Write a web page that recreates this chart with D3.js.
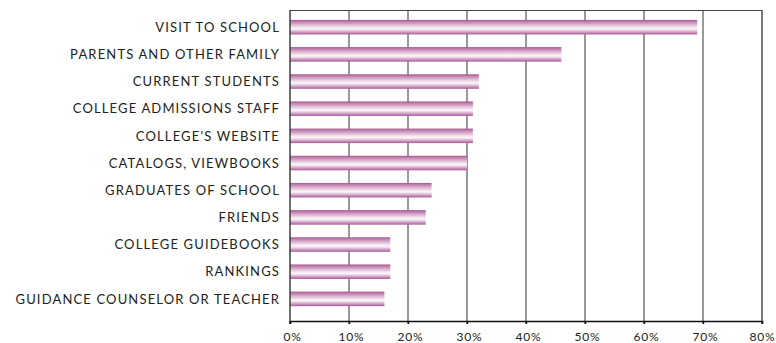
<!DOCTYPE html>
<html>
<head>
<meta charset="utf-8">
<script src="https://cdn.jsdelivr.net/npm/d3@7"></script>
<style>
  html, body { margin: 0; padding: 0; background: #fff; }
  svg { display: block; }
  .label { font-family: Lato, "Open Sans", sans-serif; font-size: 13px; fill: #222; letter-spacing: 1.15px; }
  .tick-label { font-family: Lato, "Open Sans", sans-serif; font-size: 12px; fill: #222; letter-spacing: 0.8px; }
</style>
</head>
<body>
<svg id="chart" width="776" height="343"></svg>
<script>
// Sources of information about colleges, share of respondents (%)
const categories = [
  "VISIT TO SCHOOL",
  "PARENTS AND OTHER FAMILY",
  "CURRENT STUDENTS",
  "COLLEGE ADMISSIONS STAFF",
  "COLLEGE'S WEBSITE",
  "CATALOGS, VIEWBOOKS",
  "GRADUATES OF SCHOOL",
  "FRIENDS",
  "COLLEGE GUIDEBOOKS",
  "RANKINGS",
  "GUIDANCE COUNSELOR OR TEACHER"
];
const values = [69, 46, 32, 31, 31, 30, 24, 23, 17, 17, 16];
const tickValues = [0, 10, 20, 30, 40, 50, 60, 70, 80];
const tickLabels = ["0%", "10%", "20%", "30%", "40%", "50%", "60%", "70%", "80%"];

const margin = { top: 10, left: 290, right: 14, bottom: 22 };
const width = 776, height = 343;
const plotRight = width - margin.right;
const plotBottom = height - margin.bottom;

const svg = d3.select("#chart");

const x = d3.scaleLinear().domain([0, 80]).range([margin.left, plotRight]);
const y = d3.scaleBand()
  .domain(categories)
  .range([margin.top, plotBottom])
  .paddingInner(0.466)
  .paddingOuter(0.456)
  .align(0.4);

// Vertical gradient: dark magenta edges, pale centre
const defs = svg.append("defs");
const grad = defs.append("linearGradient")
  .attr("id", "barGrad")
  .attr("x1", 0).attr("y1", 0).attr("x2", 0).attr("y2", 1);
[
  [0.00, "#a9558f"],
  [0.12, "#bf7eaf"],
  [0.30, "#d9aecd"],
  [0.50, "#f2e2ee"],
  [0.62, "#fcf7fa"],
  [0.78, "#ddb7d3"],
  [0.90, "#c284b4"],
  [1.00, "#a75490"]
].forEach(([o, c]) => grad.append("stop").attr("offset", o).attr("stop-color", c));

// Gridlines
svg.append("g")
  .selectAll("line")
  .data(tickValues.slice(1, -1))
  .join("line")
  .attr("x1", d => x(d)).attr("x2", d => x(d))
  .attr("y1", margin.top).attr("y2", plotBottom + 3)
  .attr("stroke", "#6e6e6e")
  .attr("stroke-width", 1.4);

// Frame: top and right edges
svg.append("line")
  .attr("x1", margin.left).attr("x2", plotRight)
  .attr("y1", margin.top + 0.5).attr("y2", margin.top + 0.5)
  .attr("stroke", "#444").attr("stroke-width", 1.2);
svg.append("line")
  .attr("x1", plotRight).attr("x2", plotRight)
  .attr("y1", margin.top).attr("y2", plotBottom + 3)
  .attr("stroke", "#444").attr("stroke-width", 1.4);

// Bars
svg.append("g")
  .selectAll("rect")
  .data(values)
  .join("rect")
  .attr("x", x(0))
  .attr("y", (d, i) => y(categories[i]))
  .attr("width", d => x(d) - x(0))
  .attr("height", y.bandwidth())
  .attr("fill", "url(#barGrad)");

// Left axis line
svg.append("line")
  .attr("x1", margin.left).attr("x2", margin.left)
  .attr("y1", margin.top).attr("y2", plotBottom + 3)
  .attr("stroke", "#333").attr("stroke-width", 1.4);

// Bottom axis
const xAxis = d3.axisBottom(x)
  .tickValues(tickValues)
  .tickFormat((d, i) => tickLabels[i])
  .tickSize(3)
  .tickPadding(8);
const gx = svg.append("g")
  .attr("transform", `translate(0,${plotBottom})`)
  .call(xAxis);
gx.select(".domain").attr("stroke", "#111").attr("stroke-width", 1.4);
gx.selectAll(".tick line").attr("stroke", "#111").attr("stroke-width", 1.4);
gx.selectAll(".tick text")
  .attr("class", "tick-label")
  .attr("font-family", null).attr("font-size", null)
  .attr("dx", (d, i) => i === tickValues.length - 1 ? 0 : 2);

// Category labels
svg.append("g")
  .selectAll("text")
  .data(categories)
  .join("text")
  .attr("class", "label")
  .attr("x", margin.left - 10)
  .attr("y", d => y(d) + y.bandwidth() / 2)
  .attr("dy", "0.36em")
  .attr("text-anchor", "end")
  .text(d => d);
</script>
</body>
</html>
